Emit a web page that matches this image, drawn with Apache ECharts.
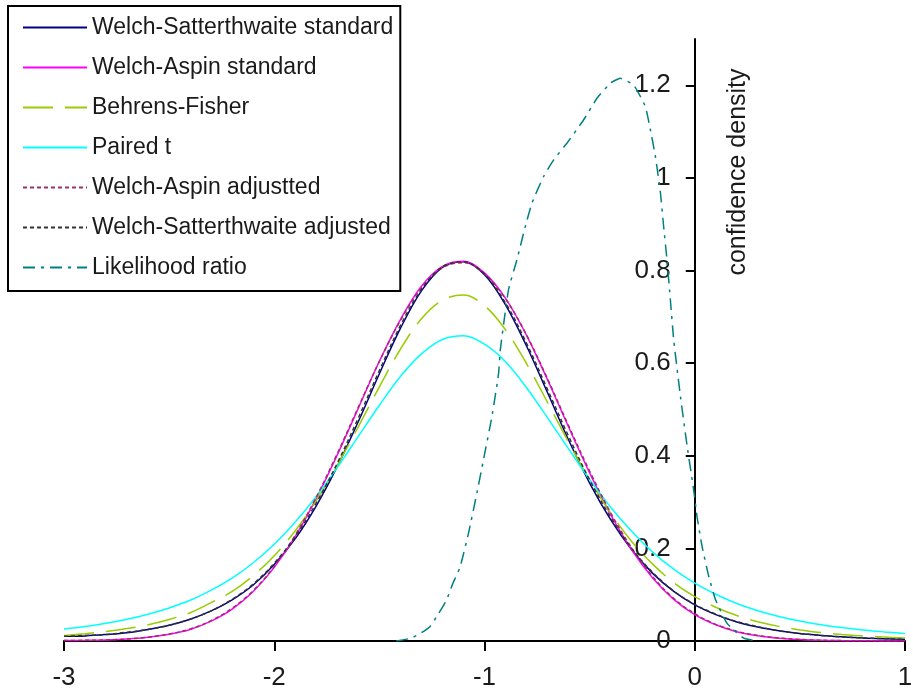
<!DOCTYPE html>
<html>
<head>
<meta charset="utf-8">
<script src="https://cdn.jsdelivr.net/npm/echarts@6/dist/echarts.min.js"></script>
<style>html,body{margin:0;padding:0;background:#fff}#c{width:913px;height:700px}</style>
</head>
<body>
<div id="c"></div>
<script>
// x grid (mean difference)
const xs = [-3,-2.9,-2.8,-2.7,-2.6,-2.5,-2.4,-2.3,-2.2,-2.1,-2,-1.9,-1.8,-1.7,-1.6,-1.5,-1.4,-1.3,-1.2,-1.1,-1,-0.9,-0.8,-0.7,-0.6,-0.5,-0.4,-0.3,-0.2,-0.1,0,0.1,0.2,0.3,0.4,0.5,0.6,0.7,0.8,0.9,1];

const wsStandard = [0.010,0.011,0.014,0.018,0.025,0.034,0.047,0.065,0.089,0.121,0.165,0.221,0.292,0.377,0.474,0.577,0.675,0.756,0.807,0.819,0.791,0.726,0.637,0.536,0.434,0.341,0.262,0.197,0.146,0.107,0.078,0.057,0.041,0.030,0.022,0.016,0.012,0.009,0.0065,0.0049,0.0037];
const waStandard = [0.001,0.0015,0.0022,0.0041,0.0079,0.0145,0.025,0.043,0.069,0.107,0.159,0.226,0.308,0.402,0.503,0.604,0.694,0.766,0.809,0.820,0.795,0.740,0.660,0.564,0.462,0.363,0.273,0.197,0.136,0.090,0.057,0.035,0.020,0.0114,0.0061,0.0031,0.0015,0.0008,0.0004,0.0002,0.0001];
const behrensFisher = [0.0121,0.0157,0.0205,0.0268,0.0352,0.0466,0.061,0.083,0.107,0.141,0.184,0.238,0.303,0.379,0.463,0.549,0.630,0.696,0.736,0.747,0.724,0.672,0.599,0.515,0.429,0.348,0.276,0.215,0.166,0.126,0.096,0.073,0.055,0.0416,0.0316,0.024,0.0184,0.0141,0.0109,0.0085,0.0066];
const pairedT = [0.0257,0.0312,0.0382,0.0468,0.0577,0.0713,0.088,0.110,0.136,0.169,0.209,0.257,0.312,0.375,0.442,0.509,0.571,0.620,0.651,0.659,0.641,0.603,0.547,0.482,0.415,0.349,0.289,0.237,0.192,0.155,0.125,0.101,0.081,0.0655,0.0531,0.0432,0.0352,0.0289,0.0238,0.0197,0.0164];
const waAdjusted = [0.001,0.0015,0.0022,0.0043,0.0082,0.0150,0.026,0.044,0.071,0.109,0.161,0.229,0.311,0.405,0.505,0.604,0.692,0.763,0.806,0.817,0.793,0.739,0.661,0.566,0.465,0.367,0.277,0.201,0.139,0.092,0.059,0.036,0.021,0.012,0.0065,0.0033,0.0016,0.0008,0.0004,0.0002,0.0001];
const wsAdjusted = [0.010,0.012,0.014,0.019,0.025,0.034,0.047,0.065,0.090,0.123,0.168,0.225,0.298,0.384,0.482,0.584,0.681,0.759,0.808,0.819,0.792,0.730,0.643,0.543,0.442,0.348,0.267,0.200,0.148,0.108,0.079,0.058,0.042,0.031,0.022,0.016,0.012,0.0089,0.0066,0.005,0.0038];

// likelihood ratio curve (own x positions)
const xLR = [-1.42,-1.35,-1.30,-1.26,-1.22,-1.18,-1.15,-1.116,-1.076,-1.036,-1.005,-0.965,-0.933,-0.925,-0.886,-0.846,-0.806,-0.774,-0.719,-0.671,-0.608,-0.529,-0.465,-0.40,-0.354,-0.29,-0.235,-0.211,-0.187,-0.163,-0.148,-0.132,-0.116,-0.10,-0.068,-0.036,-0.005,0.011,0.035,0.067,0.099,0.154,0.233,0.30];
const yLR = [0.0,0.006,0.018,0.031,0.058,0.089,0.125,0.16,0.233,0.32,0.391,0.484,0.578,0.628,0.758,0.823,0.895,0.946,1.003,1.039,1.075,1.125,1.172,1.205,1.215,1.20,1.154,1.104,1.046,0.967,0.895,0.823,0.737,0.650,0.528,0.42,0.326,0.268,0.204,0.139,0.089,0.038,0.006,0.0];

const seriesNames = ['Welch-Satterthwaite standard','Welch-Aspin standard','Behrens-Fisher','Paired t','Welch-Aspin adjustted','Welch-Satterthwaite adjusted','Likelihood ratio'];
const yTicks = [0,0.2,0.4,0.6,0.8,1,1.2];
const xTicks = [-3,-2,-1,0,1];
const yAxisTitle = 'confidence density';

const FONT = '"Liberation Sans", Arial, sans-serif';
function pairs(xv, yv){ return xv.map((x,i)=>[x, yv[i]]); }

const styles = [
  {color:'#000080', type:'solid', smooth:0.35},
  {color:'#ff00ff', type:'solid', smooth:0.35},
  {color:'#99cc00', type:[30,12], smooth:0.35},
  {color:'#00ffff', type:'solid', smooth:0.35},
  {color:'#993366', type:[4,3], smooth:0.35},
  {color:'#333333', type:[4,3], smooth:0.35},
  {color:'#008080', type:[12,6,3,6], smooth:0.15}
];
const dataSets = [
  pairs(xs, wsStandard), pairs(xs, waStandard), pairs(xs, behrensFisher), pairs(xs, pairedT),
  pairs(xs, waAdjusted), pairs(xs, wsAdjusted), pairs(xLR, yLR)
];

const chart = echarts.init(document.getElementById('c'), null, {renderer:'canvas'});
const GRID_LEFT = 64, GRID_RIGHT = 8;
const plotW = 913 - GRID_LEFT - GRID_RIGHT;
const option = {
  animation:false,
  backgroundColor:'#fff',
  grid:{left:GRID_LEFT, right:GRID_RIGHT, top:39, bottom:59, containLabel:false, outerBoundsMode:'none'},
  xAxis:{
    type:'value', min:-3, max:1, interval:1,
    axisLine:{onZero:true, lineStyle:{color:'#000', width:2}},
    axisTick:{show:true, length:10, lineStyle:{color:'#000', width:2}, customValues:xTicks},
    axisLabel:{fontSize:26, color:'#1a1a1a', fontFamily:FONT, margin:24, customValues:xTicks},
    splitLine:{show:false}
  },
  yAxis:{
    type:'value', min:0, max:1.3, position:'left',
    // y axis drawn at x = 0 of the x scale (3/4 across the plot)
    offset: -plotW * 3 / 4,
    axisLine:{show:true, onZero:false, lineStyle:{color:'#000', width:2}},
    axisTick:{show:true, length:9, lineStyle:{color:'#000', width:2}, customValues:yTicks},
    axisLabel:{fontSize:26, color:'#1a1a1a', fontFamily:FONT, margin:24, customValues:yTicks},
    splitLine:{show:false}
  },
  legend:{
    show:true, orient:'vertical', left:8, top:6,
    padding:[10,7,12,14], itemGap:17, itemWidth:64, itemHeight:14,
    backgroundColor:'#fff', borderColor:'#000', borderWidth:2,
    textStyle:{fontSize:23, color:'#1a1a1a', fontFamily:FONT},
    itemStyle:{opacity:0},
    selectedMode:false,
    data:seriesNames
  },
  graphic:[{
    type:'text', x:738, y:172, rotation:Math.PI/2,
    style:{text:yAxisTitle, fontSize:25, fontFamily:FONT, fill:'#1a1a1a', textAlign:'center', textVerticalAlign:'middle'}
  }],
  series: seriesNames.map((n,i)=>({
    name:n, type:'line', data:dataSets[i], symbol:'none', showSymbol:false, smooth:styles[i].smooth,
    color:styles[i].color,
    lineStyle:{color:styles[i].color, width:1.5, type:styles[i].type}
  }))
};
chart.setOption(option);
</script>
</body>
</html>
